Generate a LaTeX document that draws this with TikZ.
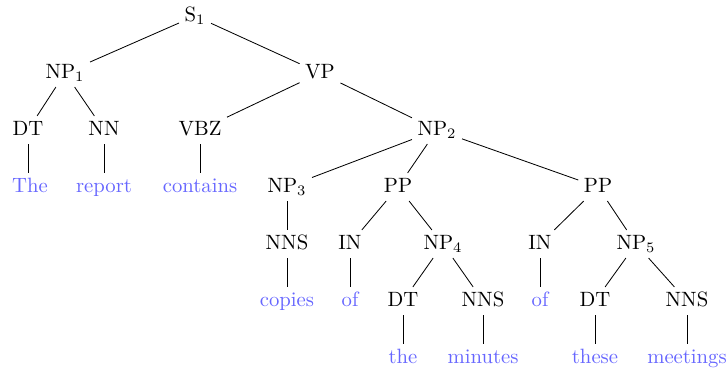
\documentclass[tikz,border=0pt]{standalone}
\begin{document}
\begin{tikzpicture}[x=0.4828pt,y=-0.4828pt,
  cat/.style={inner sep=2.5pt,text height=1.6ex,text depth=0.3ex},
  word/.style={cat,text=blue!60},
  edge/.style={draw=black,line width=0.4pt}]
\useasboundingbox (0,0) rectangle (727,373);
% level 0
\node[cat] (s) at (195,16) {S$_1$};
% level 1
\node[cat] (np1) at (65,73) {NP$_1$};
\node[cat] (vp) at (320,73) {VP};
% level 2
\node[cat] (dt1) at (28,130) {DT};
\node[cat] (nn) at (104,130) {NN};
\node[cat] (vbz) at (200,130) {VBZ};
\node[cat] (np2) at (437,130) {NP$_2$};
% level 3
\node[word] (w1) at (30,187) {The};
\node[word] (w2) at (104,187) {report};
\node[word] (w3) at (200,187) {contains};
\node[cat] (np3) at (287,187) {NP$_3$};
\node[cat] (pp1) at (398,187) {PP};
\node[cat] (pp2) at (598,187) {PP};
% level 4
\node[cat] (nns1) at (287,244) {NNS};
\node[cat] (in1) at (350,244) {IN};
\node[cat] (np4) at (443,244) {NP$_4$};
\node[cat] (in2) at (540,244) {IN};
\node[cat] (np5) at (636,244) {NP$_5$};
% level 5
\node[word] (w4) at (287,301) {copies};
\node[word] (w5) at (350,301) {of};
\node[cat] (dt2) at (403,301) {DT};
\node[cat] (nns2) at (483,301) {NNS};
\node[word] (w6) at (540,301) {of};
\node[cat] (dt3) at (595,301) {DT};
\node[cat] (nns3) at (687,301) {NNS};
% level 6
\node[word] (w7) at (403,358) {the};
\node[word] (w8) at (483,358) {minutes};
\node[word] (w9) at (595,358) {these};
\node[word] (w10) at (687,358) {meetings};
% edges between categories
\foreach \a/\b in {s/np1,s/vp,np1/dt1,np1/nn,vp/vbz,vp/np2,
  np2/np3,np2/pp1,np2/pp2,
  np3/nns1,pp1/in1,pp1/np4,pp2/in2,pp2/np5,
  np4/dt2,np4/nns2,np5/dt3,np5/nns3}
  \draw[edge] (\a) -- (\b);
% vertical edges to words
\foreach \a/\b in {dt1/w1,nn/w2,vbz/w3,nns1/w4,in1/w5,in2/w6,
  dt2/w7,nns2/w8,dt3/w9,nns3/w10}
  \draw[edge] (\a.south) -- (\a.south |- \b.north);
\end{tikzpicture}
\end{document}
